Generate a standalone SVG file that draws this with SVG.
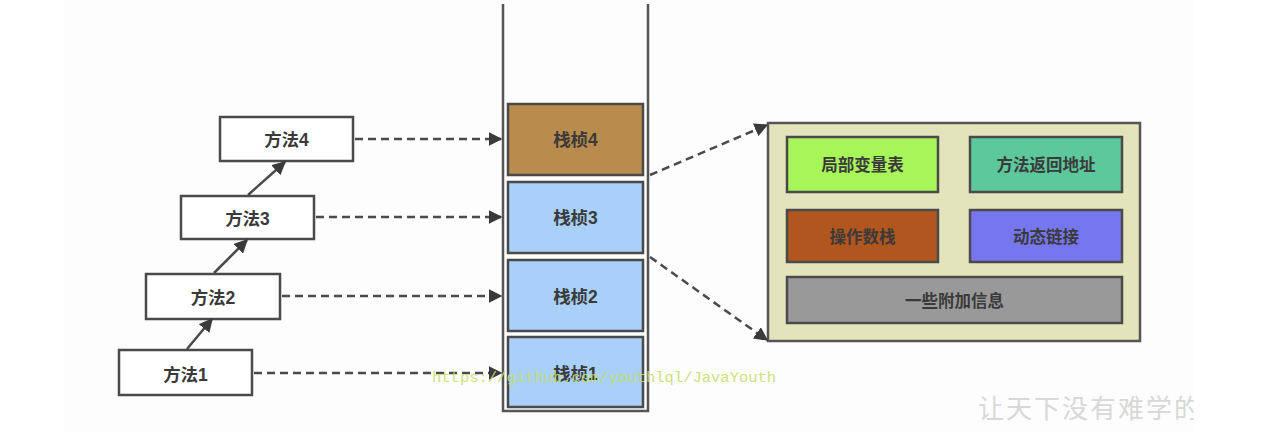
<svg xmlns="http://www.w3.org/2000/svg" width="1288" height="442" viewBox="0 0 1288 442">
<defs>
<style>
.box{stroke:#4a4a4a;stroke-width:2.5}
.m{fill:#fff}
.t{font-family:"Liberation Sans","Noto Sans CJK SC",sans-serif;font-weight:bold;fill:#3a3a3a;text-anchor:middle;dominant-baseline:central}
.c{stroke:#4a4a4a;stroke-width:2.5;fill:none}
.d{stroke-dasharray:8 5}
</style>
<marker id="ah" viewBox="0 0 10 10" refX="9" refY="5" markerWidth="5.5" markerHeight="5.5" orient="auto" markerUnits="strokeWidth">
<path d="M0,0 L10,5 L0,10 z" fill="#3a3a3a"/>
</marker>
<clipPath id="clipw"><rect x="0" y="0" width="1194" height="442"/></clipPath>
</defs>
<rect width="1288" height="442" fill="#ffffff"/>
<rect x="64" y="0" width="1130" height="432" fill="#fdfdfd"/>

<g id="stack">
<path d="M503,4 L503,411 L648,411 L648,4" fill="none" stroke="#555" stroke-width="2.5"/>
</g>

<g id="frame4"><rect class="box" x="508" y="104" width="135" height="71" fill="#b98c4e"/><text class="t" x="575.5" y="140" font-size="17.5">栈桢4</text></g>
<g id="frame3"><rect class="box" x="508" y="182" width="135" height="71" fill="#a8d0f8"/><text class="t" x="575.5" y="218" font-size="17.5">栈桢3</text></g>
<g id="frame2"><rect class="box" x="508" y="260" width="135" height="71" fill="#a8d0f8"/><text class="t" x="575.5" y="297" font-size="17.5">栈桢2</text></g>
<g id="frame1"><rect class="box" x="508" y="337" width="135" height="70" fill="#a8d0f8"/><text class="t" x="575.5" y="374" font-size="17.5">栈桢1</text></g>

<g id="method4"><rect class="box m" x="220" y="117" width="133" height="44"/><text class="t" x="286.5" y="140" font-size="17.5">方法4</text></g>
<g id="method3"><rect class="box m" x="181" y="196" width="133" height="43"/><text class="t" x="247.5" y="219" font-size="17.5">方法3</text></g>
<g id="method2"><rect class="box m" x="146" y="274" width="134" height="45"/><text class="t" x="213" y="298" font-size="17.5">方法2</text></g>
<g id="method1"><rect class="box m" x="119" y="350" width="133" height="45"/><text class="t" x="185.5" y="375" font-size="17.5">方法1</text></g>

<g id="detail">
<rect x="768" y="123" width="372" height="218" fill="#e4e4bc" stroke="#555" stroke-width="2.5"/>
</g>
<g id="locals"><rect class="box" x="787" y="137" width="151" height="55" fill="#a8f55a"/><text class="t" x="862.5" y="165" font-size="16.5">局部变量表</text></g>
<g id="retaddr"><rect class="box" x="970" y="137" width="152" height="55" fill="#5cc89c"/><text class="t" x="1046" y="165" font-size="16.5">方法返回地址</text></g>
<g id="opstack"><rect class="box" x="787" y="210" width="151" height="52" fill="#b0561e"/><text class="t" x="862.5" y="237" font-size="16.5">操作数栈</text></g>
<g id="dynlink"><rect class="box" x="970" y="210" width="152" height="52" fill="#7676f0"/><text class="t" x="1046" y="237" font-size="16.5">动态链接</text></g>
<g id="extra"><rect class="box" x="787" y="277" width="335" height="46" fill="#999999"/><text class="t" x="954.5" y="301" font-size="16.5">一些附加信息</text></g>

<g id="connectors">
<line class="c" x1="187" y1="349" x2="212" y2="319" marker-end="url(#ah)"/>
<line class="c" x1="214" y1="273" x2="247" y2="240" marker-end="url(#ah)"/>
<line class="c" x1="248" y1="195" x2="285" y2="162" marker-end="url(#ah)"/>
<line class="c d" x1="355" y1="139" x2="501" y2="139" marker-end="url(#ah)"/>
<line class="c d" x1="316" y1="217" x2="501" y2="217" marker-end="url(#ah)"/>
<line class="c d" x1="282" y1="296" x2="501" y2="296" marker-end="url(#ah)"/>
<line class="c d" x1="254" y1="373" x2="501" y2="373" marker-end="url(#ah)"/>
<line class="c d" x1="650" y1="175" x2="767" y2="125" marker-end="url(#ah)"/>
<line class="c d" x1="650" y1="257" x2="767" y2="340" marker-end="url(#ah)"/>
</g>

<text x="432" y="382" font-family="Liberation Mono,monospace" font-size="15.5" fill="#c6de6a" fill-opacity="0.9">https://github.com/youthlql/JavaYouth</text>
<g clip-path="url(#clipw)">
<text x="978" y="418" font-family="Noto Sans CJK SC,sans-serif" font-size="26" fill="#d8d8d8" letter-spacing="2">让天下没有难学的</text>
</g>
</svg>
